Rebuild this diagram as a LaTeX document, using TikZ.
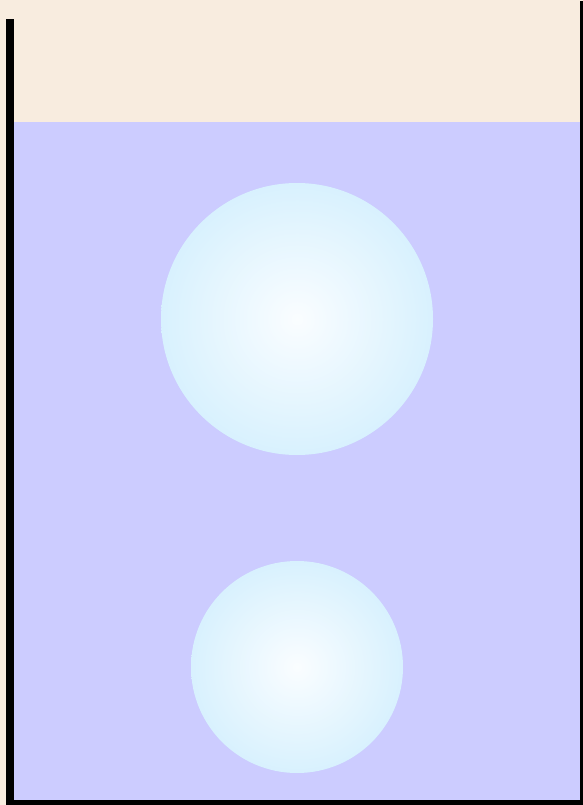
\documentclass[tikz,border=0pt]{standalone}
\usetikzlibrary{calc}
\definecolor{tankAir}{HTML}{F8ECDF}
\definecolor{tankWater}{HTML}{CCCCFF}
\definecolor{bubbleEdge}{HTML}{D8F1FE}
\definecolor{bubbleCore}{HTML}{FAFDFF}
\tikzset{
  air/.style={fill=tankAir, draw=none},
  water/.style={fill=tankWater, draw=none},
  wall/.style={fill=black, draw=none},
  bubble/.style={inner color=bubbleCore, outer color=bubbleEdge, draw=none},
}

\begin{document}
\begin{tikzpicture}[x=1pt,y=-1pt]
  \useasboundingbox (0,0) rectangle (583,805);
  % air above, water below
  \fill[air] (0,0) rectangle (583,805);
  \fill[water] (14,122) rectangle (580,800);
  % bubbles
  \coordinate (big) at (297,319);
  \coordinate (small) at (297,667);
  \shade[bubble] (big) circle (136);
  \shade[bubble] (small) circle (106);
  % tank walls
  \fill[wall] (6,19) rectangle (14,805);
  \fill[wall] (6,800) rectangle (583,805);
  \fill[wall] (580,1) rectangle (583,805);
\end{tikzpicture}
\end{document}
